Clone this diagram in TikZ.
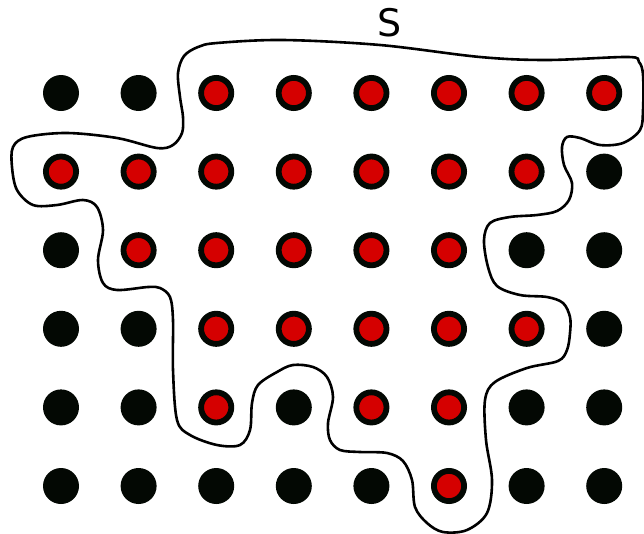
\documentclass[tikz,border=0pt]{standalone}
\usepackage{fontspec}
\newfontfamily\labelfont{DejaVu Sans}
\definecolor{dotred}{RGB}{213,0,0}
\definecolor{dotblack}{RGB}{3,8,3}
\tikzset{
  blackdot/.style={circle,fill=dotblack,minimum size=36pt,inner sep=0pt},
  reddot/.style={circle,fill=dotred,draw=dotblack,line width=5.8pt,minimum size=30.2pt,inner sep=0pt},
  boundary/.style={line width=2.6pt,line join=round},
  setlabel/.style={font=\labelfont\fontsize{38}{40}\selectfont,inner sep=0pt}
}
\begin{document}
\begin{tikzpicture}[x=1pt,y=-1pt]
\useasboundingbox (0,0) rectangle (644,533);
\foreach \r [count=\j from 0] in {{0,0,1,1,1,1,1,1},{1,1,1,1,1,1,1,0},{0,1,1,1,1,1,0,0},{0,0,1,1,1,1,1,0},{0,0,1,0,1,1,0,0},{0,0,0,0,0,1,0,0}}{
  \foreach \v [count=\i from 0] in \r {
    \ifnum\v=1
      \node[reddot] (d\i-\j) at ({61+77.6*\i},{93+78.6*\j}) {};
    \else
      \node[blackdot] (d\i-\j) at ({61+77.6*\i},{93+78.6*\j}) {};
    \fi
  }
}
\node[setlabel] (S) at (390,23) {S};
\draw[boundary] plot[smooth cycle,tension=0.55] coordinates {
(184,56) (198,47) (217,43) (283,40) (380,45) (480,57) (547,60) (628,57) (639,62) (643,75) (643,110) (640,130) (623,143) (600,145) (580,138) (567,137) (562,147) (564,165) (572,183) (569,200) (557,211) (537,215) (510,217) (490,223) (484,240) (488,267) (497,286) (520,295) (547,297) (563,303) (570,317) (570,333) (567,350) (558,361) (527,368) (495,382) (485,400) (486,440) (492,480) (487,513) (467,530) (443,532) (427,523) (415,507) (412,480) (403,461) (387,453) (360,452) (340,450) (330,440) (328,423) (333,397) (327,377) (313,367) (293,365) (277,372) (258,385) (252,403) (250,430) (240,445) (217,445) (190,435) (177,420) (173,370) (173,320) (170,297) (160,288) (148,287) (117,290) (103,283) (98,260) (103,230) (97,207) (83,200) (57,205) (33,205) (17,190) (12,167) (13,147) (27,137) (67,133) (117,138) (157,148) (173,145) (182,133) (183,117) (180,97) (178,73)
};
\end{tikzpicture}
\end{document}
